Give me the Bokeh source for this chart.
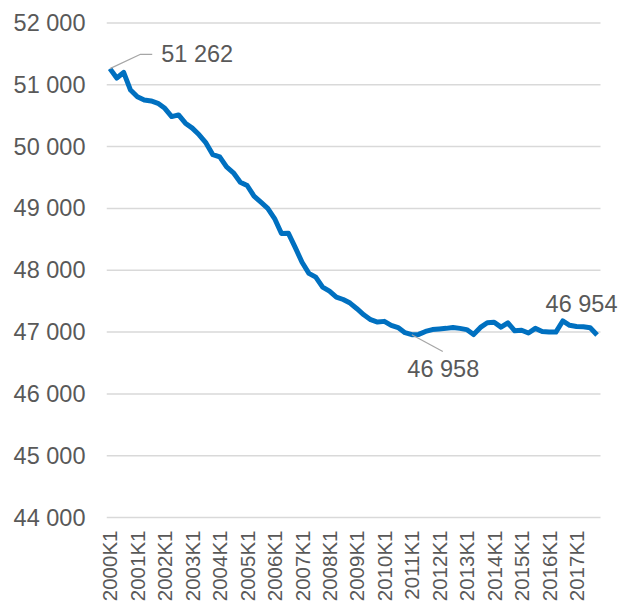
import math
from bokeh.plotting import figure
from bokeh.models import Range1d, FixedTicker, Label
from bokeh.embed import file_html
from bokeh.resources import INLINE

# ---- data ----
values = [
    51262, 51110, 51200, 50915, 50807, 50754, 50738, 50701,
    50620, 50486, 50513, 50379, 50299, 50191, 50060, 49870,
    49833, 49672, 49576, 49425, 49371, 49200, 49103, 49002,
    48836, 48595, 48600, 48370, 48129, 47950, 47888, 47727,
    47662, 47566, 47527, 47469, 47378, 47280, 47200, 47162,
    47173, 47109, 47072, 46990, 46958, 46962, 47010, 47040,
    47050, 47060, 47075, 47060, 47040, 46960, 47075, 47150,
    47160, 47080, 47150, 47020, 47030, 46985, 47060, 47010,
    47000, 47000, 47180, 47110, 47090, 47085, 47070, 46954,
]
x_idx = list(range(len(values)))
tick_labels = ["2000K1", "2001K1", "2002K1", "2003K1", "2004K1", "2005K1",
               "2006K1", "2007K1", "2008K1", "2009K1", "2010K1", "2011K1",
               "2012K1", "2013K1", "2014K1", "2015K1", "2016K1", "2017K1"]
tick_pos = [4 * k for k in range(len(tick_labels))]
y_ticks = [44000, 45000, 46000, 47000, 48000, 49000, 50000, 51000, 52000]
y_tick_labels = ["44 000", "45 000", "46 000", "47 000", "48 000",
                 "49 000", "50 000", "51 000", "52 000"]
annot_idx = [0, 44, 71]

# ---- style / layout ----
FONT = "Liberation Sans"
GREY = "#595959"
BLUE = "#0070C0"
GRID = "#D9D9D9"
W, H = 620, 604
PLOT_L, PLOT_R = 106, 600          # plot area (categories) in px
PLOT_T, PLOT_B = 22.5, 520         # y of 52000 / 44000 in px
BT, BB = 20, 82                    # frame top / bottom borders
YMIN, YMAX = 44000, 52000
ppq = (PLOT_R - PLOT_L) / len(values)
ppv = (PLOT_B - PLOT_T) / (YMAX - YMIN)
XMIN = -0.5
XMAX = XMIN + (W - PLOT_L) / ppq
Y0 = YMIN - (H - BB - PLOT_B) / ppv
Y1 = YMAX + (PLOT_T - BT) / ppv
CAT_END = len(values) - 0.5

p = figure(width=W, height=H, output_backend="svg", toolbar_location=None,
           x_range=Range1d(XMIN, XMAX), y_range=Range1d(Y0, Y1),
           min_border_left=PLOT_L, min_border_right=0,
           min_border_top=BT, min_border_bottom=BB)
p.outline_line_color = None
p.background_fill_color = "white"
p.border_fill_color = "white"
p.xgrid.visible = False
p.ygrid.visible = False

yax = p.yaxis[0]
yax.ticker = FixedTicker(ticks=y_ticks)
yax.major_label_overrides = {t: l for t, l in zip(y_ticks, y_tick_labels)}
yax.axis_line_color = None
yax.major_tick_line_color = None
yax.minor_tick_line_color = None
yax.major_tick_out = 0
yax.major_tick_in = 0
yax.major_label_standoff = 21
yax.major_label_text_font = FONT
yax.major_label_text_font_size = "23.5px"
yax.major_label_text_color = GREY

xax = p.xaxis[0]
xax.ticker = FixedTicker(ticks=tick_pos)
xax.major_label_overrides = {t: l for t, l in zip(tick_pos, tick_labels)}
xax.axis_line_color = None
xax.major_tick_line_color = None
xax.minor_tick_line_color = None
xax.major_tick_out = 0
xax.major_tick_in = 0
xax.major_label_standoff = 11
xax.major_label_orientation = math.pi / 2
xax.major_label_text_font = FONT
xax.major_label_text_font_size = "20.5px"
xax.major_label_text_color = GREY

# horizontal gridlines over the category area only
p.segment(x0=[XMIN] * len(y_ticks), x1=[CAT_END] * len(y_ticks),
          y0=y_ticks, y1=y_ticks, line_color=GRID, line_width=1.5)

# series line
p.line(x_idx, values, line_color=BLUE, line_width=5, line_join="round")

# leader lines
i0 = annot_idx[0]
p.line([i0, i0 + 30.6 / ppq, i0 + 42.3 / ppq],
       [values[i0], values[i0] + 14.4 / ppv, values[i0] + 14.4 / ppv],
       line_color="#A6A6A6", line_width=1.2)
i1 = annot_idx[1]
p.line([i1, i1 + 31 / ppq], [values[i1], values[i1] - 17 / ppv],
       line_color="#A6A6A6", line_width=1.2)

# data labels
offsets = [(51.3, 14.4), (-4.5, -34), (-51.5, 31.4)]
for i, (dx, dy) in zip(annot_idx, offsets):
    txt = f"{values[i]:,}".replace(",", " ")
    p.add_layout(Label(x=i, y=values[i], x_offset=dx, y_offset=dy, text=txt,
                       text_align="left", text_baseline="middle",
                       text_font=FONT, text_font_size="23.5px",
                       text_color=GREY))

open("out.html", "w").write(file_html(p, INLINE))
